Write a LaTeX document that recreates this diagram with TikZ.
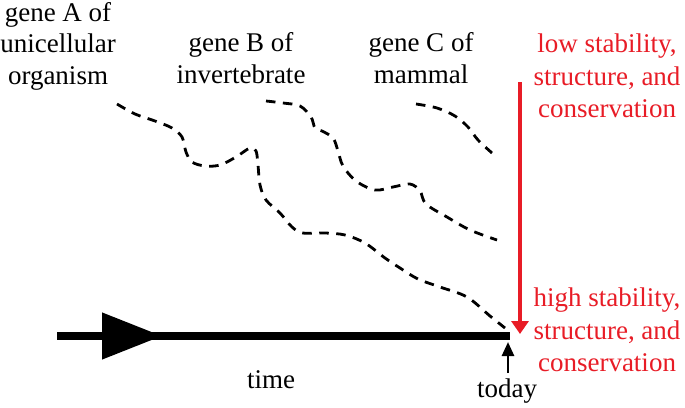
\documentclass[tikz,border=0pt]{standalone}
\usepackage{fontspec}
\setmainfont{Liberation Serif}
\usetikzlibrary{arrows.meta,decorations.markings}
\definecolor{stabred}{RGB}{232,28,38}

\begin{document}
\begin{tikzpicture}[x=1pt, y=-1pt,
  lbl/.style={align=center, inner sep=0pt, font=\fontsize{27}{31.5}\selectfont},
  redlbl/.style={align=center, inner sep=0pt, text=stabred, font=\fontsize{27}{32.5}\selectfont},
  gene/.style={line width=2.8pt, dash pattern=on 9.5pt off 7.5pt},
  timeln/.style={line width=7.5pt, postaction={decorate},
    decoration={markings, mark=at position 0.232 with {\arrow{Triangle[length=60pt,width=45pt]}}}},
  redarr/.style={stabred, line width=4pt, -{Triangle[length=13pt,width=17pt]}},
  nowarr/.style={line width=2.6pt, -{Triangle[length=14pt,width=12pt]}}
]
\useasboundingbox (0,0) rectangle (685,407);
\node[lbl] (genea) at (58,46)  {gene A of\\unicellular\\organism};
\node[lbl] (geneb) at (241,58) {gene B of\\invertebrate};
\node[lbl] (genec) at (421,58) {gene C of\\mammal};
\node[redlbl] (low)  at (607,76)  {low stability,\\structure, and\\conservation};
\node[redlbl] (high) at (607,330) {high stability,\\structure, and\\conservation};
\node[lbl, anchor=base] (time)  at (271,388) {time};
\node[lbl, anchor=base] (today) at (507,397) {today};
\coordinate (past) at (57,336);
\coordinate (now)  at (510,336);
\coordinate (nowfoot) at (508,373);
\coordinate (nowtip)  at (508,342);
\coordinate (lowend)  at (520,82);
\coordinate (highend) at (520,334);
\draw[gene] plot[smooth, tension=0.55] coordinates {(117,104) (135,114) (155,121) (172,128) (182,137)
  (186,152) (192,162) (205,166) (220,165) (236,157) (250,148) (256,151) (258,165) (260,185) (266,200)
  (280,213) (292,227) (303,233) (325,233) (345,235) (365,243) (385,258) (400,268) (418,279) (440,287)
  (467,297) (490,316) (505,328)};
\draw[gene] plot[smooth, tension=0.55] coordinates {(266,101) (283,103) (300,106) (311,117) (315,128)
  (322,131) (333,138) (338,151) (343,166) (356,181) (375,190) (393,187) (410,184) (420,191) (426,204)
  (447,217) (470,230) (497,240)};
\draw[gene] plot[smooth, tension=0.55] coordinates {(416,104) (437,108) (455,116) (468,127) (478,140) (492,153)};
\draw[timeln] (past) -- (now);
\draw[redarr] (lowend) -- (highend);
\draw[nowarr] (nowfoot) -- (nowtip);
\end{tikzpicture}
\end{document}
